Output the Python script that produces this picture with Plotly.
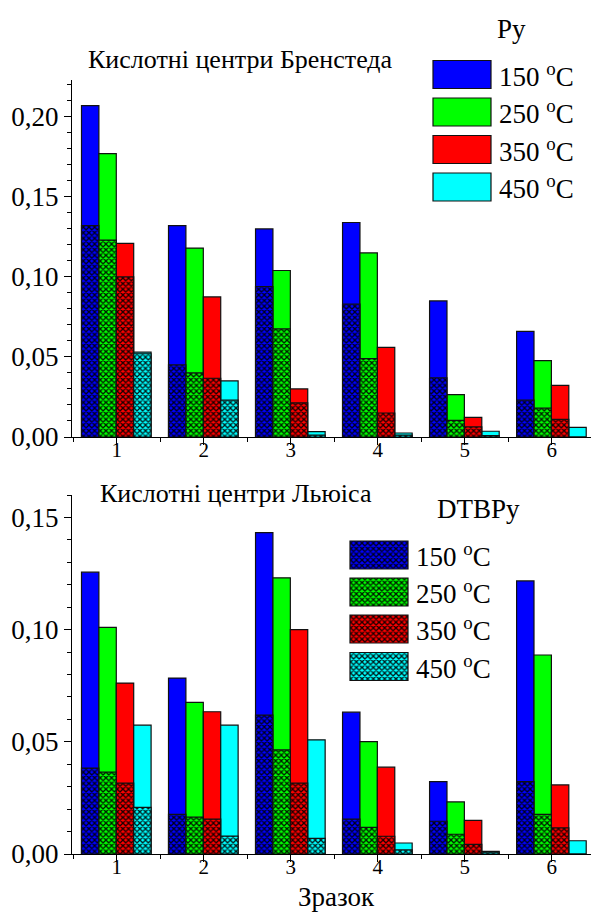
import plotly.graph_objects as go

# ---------------- data ----------------
samples = [1, 2, 3, 4, 5, 6]
temps = ["150", "250", "350", "450"]
colors = ["#0000FF", "#00FF00", "#FF0000", "#00FFFF"]

# Brønsted (Py) – total (solid) and hatched part
br_total_150 = [0.207, 0.132, 0.130, 0.134, 0.085, 0.066]
br_total_250 = [0.177, 0.118, 0.104, 0.115, 0.0265, 0.0477]
br_total_350 = [0.121, 0.0875, 0.030, 0.056, 0.0123, 0.0323]
br_total_450 = [0.053, 0.035, 0.0033, 0.0025, 0.0036, 0.006]
br_hatch_150 = [0.132, 0.045, 0.094, 0.083, 0.037, 0.023]
br_hatch_250 = [0.123, 0.040, 0.0675, 0.049, 0.0104, 0.018]
br_hatch_350 = [0.100, 0.0367, 0.0213, 0.015, 0.0063, 0.011]
br_hatch_450 = [0.052, 0.023, 0.0012, 0.0012, 0.0008, 0.0]

# Lewis (DTBPy)
lw_total_150 = [0.1256, 0.0784, 0.1432, 0.0632, 0.0323, 0.1217]
lw_total_250 = [0.101, 0.0676, 0.1231, 0.0501, 0.0232, 0.0887]
lw_total_350 = [0.0762, 0.0634, 0.100, 0.0387, 0.015, 0.0308]
lw_total_450 = [0.0574, 0.0574, 0.0509, 0.0049, 0.0012, 0.0059]
lw_hatch_150 = [0.0383, 0.0177, 0.0619, 0.0155, 0.0146, 0.0323]
lw_hatch_250 = [0.0365, 0.0164, 0.0464, 0.0119, 0.0088, 0.0177]
lw_hatch_350 = [0.0316, 0.0155, 0.0316, 0.0079, 0.0043, 0.0116]
lw_hatch_450 = [0.0208, 0.008, 0.007, 0.0018, 0.0008, 0.0]

y_ticks_top = [0.00, 0.05, 0.10, 0.15, 0.20]
y_ticks_bot = [0.00, 0.05, 0.10, 0.15]

br_total = [br_total_150, br_total_250, br_total_350, br_total_450]
br_hatch = [br_hatch_150, br_hatch_250, br_hatch_350, br_hatch_450]
lw_total = [lw_total_150, lw_total_250, lw_total_350, lw_total_450]
lw_hatch = [lw_hatch_150, lw_hatch_250, lw_hatch_350, lw_hatch_450]

W, H = 591, 915
FONT = "Liberation Serif, Times New Roman, DejaVu Serif, serif"
BW = 0.2
OFF0 = -0.405
EDGE = "#111111"
PATTERN = dict(shape="x", fgcolor="black", size=4, solidity=0.55, fgopacity=0.9)

fig = go.Figure()

def add_panel(totals, hatches, xa, ya):
    for i in range(4):
        fig.add_trace(go.Bar(
            x=samples, y=totals[i], xaxis=xa, yaxis=ya,
            width=BW, offset=OFF0 + i * BW,
            marker=dict(color=colors[i], line=dict(color=EDGE, width=1.2)),
            showlegend=False, hoverinfo="skip"))
    for i in range(4):
        fig.add_trace(go.Bar(
            x=samples, y=hatches[i], xaxis=xa, yaxis=ya,
            width=BW, offset=OFF0 + i * BW,
            marker=dict(color=colors[i], line=dict(color=EDGE, width=1.2),
                        pattern=PATTERN),
            showlegend=False, hoverinfo="skip"))

add_panel(br_total, br_hatch, "x", "y")
add_panel(lw_total, lw_hatch, "x2", "y2")

# ---------------- legend boxes (pixel overlay axis) ----------------
def px(v):
    return v / W

def py(v):
    return 1 - v / H

leg_top_y = [74.5, 112, 149.5, 187]
leg_bot_y = [555, 592, 629, 666.5]
for i in range(4):
    fig.add_trace(go.Bar(
        y=[leg_top_y[i]], x=[58], base=[433], orientation="h", width=28,
        xaxis="x3", yaxis="y3",
        marker=dict(color=colors[i], line=dict(color=EDGE, width=1.2)),
        showlegend=False, hoverinfo="skip"))
    fig.add_trace(go.Bar(
        y=[leg_bot_y[i]], x=[58], base=[350], orientation="h", width=28,
        xaxis="x3", yaxis="y3",
        marker=dict(color=colors[i], line=dict(color=EDGE, width=1.2), pattern=PATTERN),
        showlegend=False, hoverinfo="skip"))

annotations = []
for i in range(4):
    annotations.append(dict(x=px(497), y=py(leg_top_y[i]), xref="paper", yref="paper",
                            text=f"{temps[i]} <sup>o</sup>C", showarrow=False,
                            xanchor="left", yanchor="middle",
                            font=dict(family=FONT, size=27, color="black")))
    annotations.append(dict(x=px(414), y=py(leg_bot_y[i]), xref="paper", yref="paper",
                            text=f"{temps[i]} <sup>o</sup>C", showarrow=False,
                            xanchor="left", yanchor="middle",
                            font=dict(family=FONT, size=27, color="black")))

annotations += [
    dict(x=px(495), y=py(29), xref="paper", yref="paper", text="Py", showarrow=False,
         xanchor="left", yanchor="middle", font=dict(family=FONT, size=27, color="black")),
    dict(x=px(435), y=py(509), xref="paper", yref="paper", text="DTBPy", showarrow=False,
         xanchor="left", yanchor="middle", font=dict(family=FONT, size=27, color="black")),
    dict(x=px(86), y=py(60), xref="paper", yref="paper", text="Кислотні центри Бренстеда",
         showarrow=False, xanchor="left", yanchor="middle",
         font=dict(family=FONT, size=26, color="black")),
    dict(x=px(98), y=py(493), xref="paper", yref="paper", text="Кислотні центри Льюіса",
         showarrow=False, xanchor="left", yanchor="middle",
         font=dict(family=FONT, size=26, color="black")),
    dict(x=px(336), y=py(897), xref="paper", yref="paper", text="Зразок",
         showarrow=False, xanchor="center", yanchor="middle",
         font=dict(family=FONT, size=27, color="black")),
]

xdom = [72 / W, 1.0]
xrange_ = [0.486, 6.45]

xaxis_common = dict(
    range=xrange_, tickmode="array", tickvals=samples, ticktext=[str(s) for s in samples],
    showline=True, linecolor="black", linewidth=1, ticks="outside", ticklen=7,
    tickcolor="black", showgrid=False, zeroline=False, ticklabelstandoff=-13,
    tickfont=dict(family=FONT, size=21, color="black"),
    minor=dict(dtick=0.5, tick0=0.5, ticks="outside", ticklen=4, tickcolor="black", showgrid=False),
    fixedrange=True,
)
yaxis_common = dict(
    showline=True, linecolor="black", linewidth=1, ticks="outside", ticklen=7,
    tickcolor="black", showgrid=False, zeroline=False, tickformat=".2f",
    tickfont=dict(family=FONT, size=27, color="black"),
    minor=dict(dtick=0.01, ticks="outside", ticklen=4, tickcolor="black", showgrid=False),
    fixedrange=True,
)

fig.update_layout(
    width=W, height=H,
    margin=dict(l=0, r=0, t=0, b=0, autoexpand=False),
    paper_bgcolor="white", plot_bgcolor="rgba(0,0,0,0)",
    barmode="overlay", separators=", ",
    showlegend=False,
    font=dict(family=FONT, color="black"),
    xaxis=dict(domain=xdom, anchor="y", **xaxis_common),
    yaxis=dict(domain=[1 - 437 / H, 1 - 80 / H], anchor="x", range=[0, 0.223],
               tickvals=y_ticks_top, **yaxis_common),
    xaxis2=dict(domain=xdom, anchor="y2", **xaxis_common),
    yaxis2=dict(domain=[1 - 854 / H, 1 - 495 / H], anchor="x2", range=[0, 0.160],
                tickvals=y_ticks_bot, **yaxis_common),
    xaxis3=dict(domain=[0, 1], anchor="y3", range=[0, W], visible=False, fixedrange=True),
    yaxis3=dict(domain=[0, 1], anchor="x3", range=[H, 0], visible=False, fixedrange=True),
    annotations=annotations,
)

fig.write_html("out.html", config={"displayModeBar": False},
               post_script="document.body.style.margin='0';document.body.style.overflow='hidden';")
